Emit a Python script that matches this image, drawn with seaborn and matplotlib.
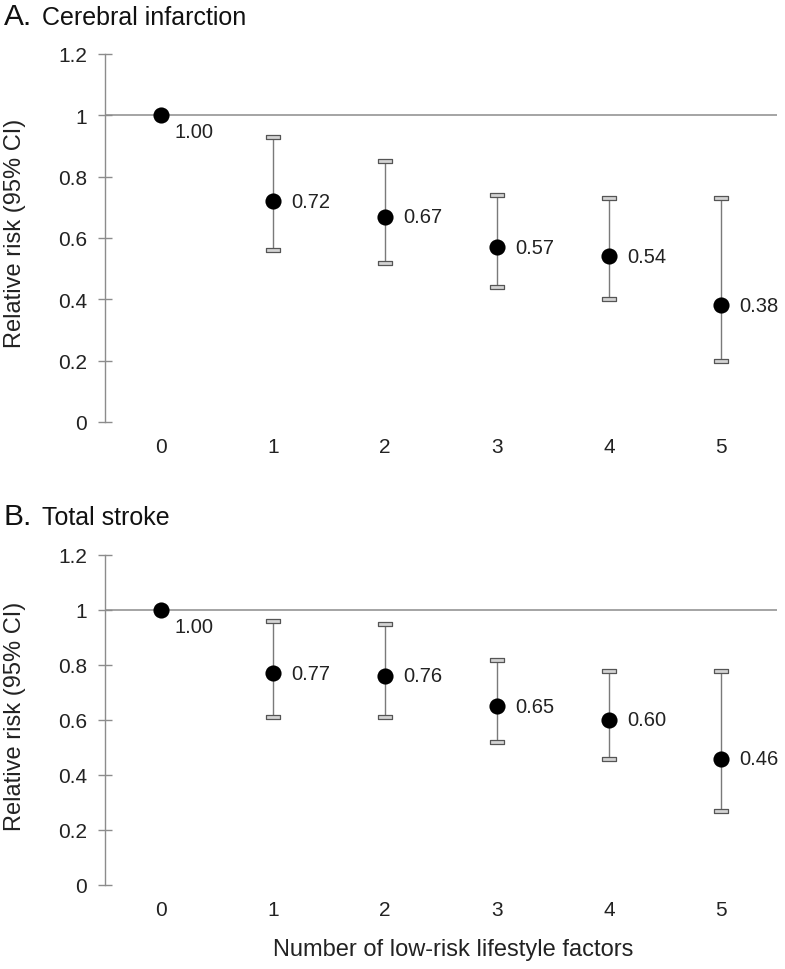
import matplotlib
matplotlib.use("Agg")
import matplotlib.pyplot as plt
from matplotlib.path import Path
import seaborn as sns
import pandas as pd

sns.set_theme(style="white")
plt.rcParams['font.family'] = ['Liberation Sans', 'DejaVu Sans']

# ---- data ----
factors = [0, 1, 2, 3, 4, 5]
rr_a = [1.00, 0.72, 0.67, 0.57, 0.54, 0.38]
lo_a = [None, 0.56, 0.52, 0.44, 0.40, 0.20]
hi_a = [None, 0.93, 0.85, 0.74, 0.73, 0.73]
rr_b = [1.00, 0.77, 0.76, 0.65, 0.60, 0.46]
lo_b = [None, 0.61, 0.61, 0.52, 0.46, 0.27]
hi_b = [None, 0.96, 0.95, 0.82, 0.78, 0.78]
labels_a = ["1.00", "0.72", "0.67", "0.57", "0.54", "0.38"]
labels_b = ["1.00", "0.77", "0.76", "0.65", "0.60", "0.46"]
yticks = [0, 0.2, 0.4, 0.6, 0.8, 1.0, 1.2]
ytick_labels = ["0", "0.2", "0.4", "0.6", "0.8", "1", "1.2"]
titles = [("A.", "Cerebral infarction"), ("B.", "Total stroke")]
xlabel = "Number of low-risk lifestyle factors"
ylabel = "Relative risk (95% CI)"

W, H = 785, 970
fig = plt.figure(figsize=(W / 100, H / 100), dpi=100)

cap_marker = Path([(-1, -0.3), (1, -0.3), (1, 0.3), (-1, 0.3), (-1, -0.3)],
                  [Path.MOVETO, Path.LINETO, Path.LINETO, Path.LINETO, Path.CLOSEPOLY])

def px_axes(left, top, right, bottom):
    return fig.add_axes([left / W, 1 - bottom / H, (right - left) / W, (bottom - top) / H])

axes_px = [(105, 55, 777, 423), (105, 556, 777, 886)]
title_base = [25, 525]
panels = [(rr_a, lo_a, hi_a, labels_a), (rr_b, lo_b, hi_b, labels_b)]

for i, (rr, lo, hi, labs) in enumerate(panels):
    ax = px_axes(*axes_px[i])
    df = pd.DataFrame({"x": factors, "rr": rr, "lo": lo, "hi": hi})
    ax.axhline(1.0, color="#8c8c8c", lw=1.1, zorder=1)
    ci = df.dropna()
    ax.vlines(ci["x"], ci["lo"], ci["hi"], color="#7a7a7a", lw=1.0, zorder=2)
    caps = pd.DataFrame({"x": list(ci["x"]) * 2, "y": list(ci["lo"]) + list(ci["hi"])})
    sns.scatterplot(data=caps, x="x", y="y", ax=ax, marker=cap_marker, s=100,
                    color="#d4d4d4", edgecolor="#555555", linewidth=0.9, zorder=3)
    sns.scatterplot(data=df, x="x", y="rr", ax=ax, color="black", s=135,
                    edgecolor="black", linewidth=0, zorder=4, clip_on=False)
    for x, y, t in zip(factors, rr, labs):
        if x == 0:
            ax.annotate(t, (x, y), xytext=(10, -12), textcoords="offset points",
                        ha="left", va="center", fontsize=14.5, color="#222222")
        else:
            ax.annotate(t, (x, y), xytext=(13, 0), textcoords="offset points",
                        ha="left", va="center", fontsize=14.5, color="#222222")
    ax.set_xlim(-0.5, 5.5)
    ax.set_ylim(0, 1.2)
    ax.set_xticks(factors)
    ax.set_xticklabels([str(f) for f in factors], fontsize=15, color="#222222")
    ax.set_yticks(yticks)
    ax.set_yticklabels(ytick_labels, fontsize=15, color="#222222")
    ax.tick_params(axis="x", length=0, pad=11)
    ax.tick_params(axis="y", direction="inout", length=10, width=1, color="#8c8c8c", pad=8, left=True)
    for s in ["top", "right", "bottom"]:
        ax.spines[s].set_visible(False)
    ax.spines["left"].set_color("#8c8c8c")
    ax.spines["left"].set_linewidth(1)
    ax.set_xlabel("")
    ax.set_ylabel(ylabel, fontsize=17, color="#222222")
    ax.yaxis.set_label_coords(-0.118, 0.515)
    ax.patch.set_alpha(0)
    fig.text(4 / W, 1 - title_base[i] / H, titles[i][0], fontsize=21.5, va="baseline", ha="left", color="#111111")
    fig.text(42 / W, 1 - title_base[i] / H, titles[i][1], fontsize=18, va="baseline", ha="left", color="#111111")

fig.text(453 / W, 1 - 950 / H, xlabel, fontsize=17, ha="center", va="center", color="#222222")

fig.savefig("out.png", dpi=100)
